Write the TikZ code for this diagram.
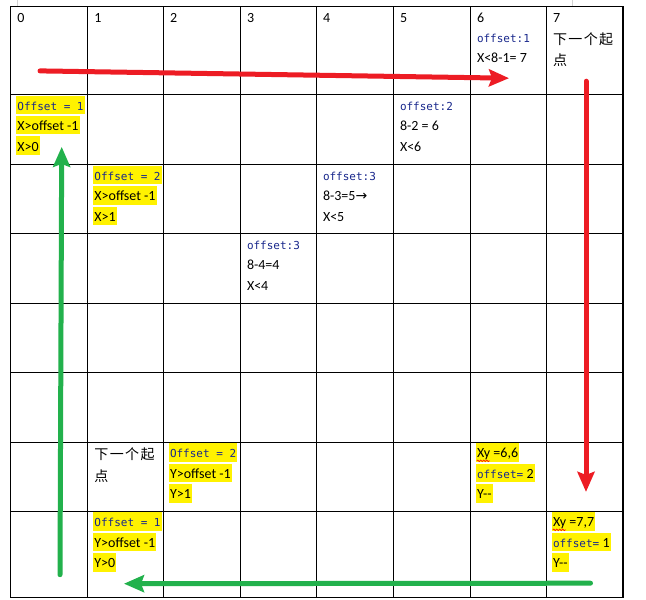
\documentclass[tikz,border=0pt]{standalone}
\usepackage{fontspec}
\usepackage{tikz}
\usetikzlibrary{arrows.meta}
\usetikzlibrary{decorations.pathmorphing}
\setmainfont{Carlito}
\newfontfamily\codefont{DejaVu Sans Mono}
\newfontfamily\cjkfont[LetterSpace=10]{Noto Sans CJK SC}
\newfontfamily\dejafont{DejaVu Sans}
\definecolor{kwblue}{RGB}{25,40,140}
\definecolor{arrowred}{RGB}{237,28,36}
\definecolor{arrowgreen}{RGB}{34,177,76}
\newcommand\kwd[1]{{\codefont\fontsize{11}{13}\selectfont\color{kwblue}#1}}
\newcommand\zh[1]{{\cjkfont\fontsize{14}{16}\selectfont #1}}
\tikzset{cell/.style = {anchor = base west, inner sep = 0pt, font = \fontsize{14}{16}\selectfont},
         hilite/.style = {cell, fill = yellow, inner xsep = 1pt, text height = 14.5pt, text depth = 4pt},
         gridline/.style = {line width = 1.2pt, line cap = rect},
         redarrow/.style = {draw = arrowred, line width = 5pt, line cap = round,
                            -{Stealth[length = 20pt, width = 17pt, inset = 3pt]}},
         greenarrow/.style = {redarrow, draw = arrowgreen},
         squiggle/.style = {draw = red, line width = 0.6pt, decorate,
                            decoration = {snake, amplitude = 0.8pt, segment length = 3pt}}}

\begin{document}
\begin{tikzpicture}[x = 1pt, y = -1pt]
      \fill [white] (0, 0) rectangle (646, 599);
      \draw [gray!35] (17.3, 0) -- (17.3, 5.5);
      \draw [gray!35] (571.7, 0) -- (571.7, 5.5);
      \foreach \x in {10.7, 87.7, 163.3, 240.3, 316.3, 393.3, 470.3, 546.3, 623}
        \draw [gridline] (\x, 6.3) -- (\x, 597);
      \foreach \y in {6.3, 94.3, 164.3, 233.3, 303, 372.3, 442, 511, 597}
        \draw [gridline] (10.7, \y) -- (623, \y);
      \foreach \d/\x in {0/17.2, 1/94.2, 2/169.8, 3/246.8, 4/322.8, 5/399.8, 6/476.8, 7/552.8}
        \node [cell] (head\d) at (\x, 21.9) {\d};
      \node [cell] (offsetF) at (476.8, 42.3) {\kwd{offset:1}};
      \node [cell] (boundF) at (476.8, 62.8) {X<8-1= 7};
      \node [cell] (nextA) at (552.8, 44) {\zh{下一个起}};
      \node [cell] (nextB) at (552.8, 65) {\zh{点}};
      \node [hilite] (offsetA) at (16.2, 109.9) {\kwd{Offset = 1}};
      \node [hilite] (condA) at (16.2, 130.3) {X>offset -1};
      \node [hilite] (boundA) at (16.2, 150.8) {X>0};
      \node [cell] (offsetE) at (399.8, 109.9) {\kwd{offset:2}};
      \node [cell] (calcE) at (399.8, 130.3) {8-2 = 6};
      \node [cell] (boundE) at (399.8, 150.8) {X<6};
      \node [hilite] (offsetB) at (93.2, 179.9) {\kwd{Offset = 2}};
      \node [hilite] (condB) at (93.2, 200.3) {X>offset -1};
      \node [hilite] (boundB) at (93.2, 220.8) {X>1};
      \node [cell] (offsetD) at (322.8, 179.9) {\kwd{offset:3}};
      \node [cell] (calcD) at (322.8, 200.3) {8-3=5{\dejafont →}};
      \node [cell] (boundD) at (322.8, 220.8) {X<5};
      \node [cell] (offsetC) at (246.8, 248.9) {\kwd{offset:3}};
      \node [cell] (calcC) at (246.8, 269.3) {8-4=4};
      \node [cell] (boundC) at (246.8, 289.8) {X<4};
      \node [cell] (nextC) at (94.2, 459) {\zh{下一个起}};
      \node [cell] (nextD) at (94.2, 481) {\zh{点}};
      \node [hilite] (offsetY) at (168.8, 457.6) {\kwd{Offset = 2}};
      \node [hilite] (condY) at (168.8, 478) {Y>offset -1};
      \node [hilite] (boundY) at (168.8, 498.5) {Y>1};
      \node [hilite] (xyA) at (475.8, 457.6) {Xy =6,6};
      \node [hilite] (offsetX) at (475.8, 478) {\kwd{offset=} 2};
      \node [hilite] (stepX) at (475.8, 498.5) {Y-{}-};
      \node [hilite] (offsetZ) at (93.2, 526.6) {\kwd{Offset = 1}};
      \node [hilite] (condZ) at (93.2, 547) {Y>offset -1};
      \node [hilite] (boundZ) at (93.2, 567.5) {Y>0};
      \node [hilite] (xyB) at (551.8, 526.6) {Xy =7,7};
      \node [hilite] (offsetW) at (551.8, 547) {\kwd{offset=} 1};
      \node [hilite] (stepW) at (551.8, 567.5) {Y-{}-};
      \draw [squiggle] ([shift = {(1pt, -3pt)}]xyA.base west) -- ++(13, 0);
      \draw [squiggle] ([shift = {(1pt, -3pt)}]xyB.base west) -- ++(13, 0);
      \coordinate (redA) at (40, 70.7);
      \coordinate (redB) at (509, 78);
      \coordinate (redC) at (586, 81);
      \coordinate (redD) at (586, 491.7);
      \coordinate (greenA) at (590.5, 583);
      \coordinate (greenB) at (124, 583.5);
      \coordinate (greenC) at (60, 574.5);
      \coordinate (greenD) at (61.7, 146.7);
      \draw [redarrow] (redA) -- (redB);
      \draw [redarrow] (redC) -- (redD);
      \draw [greenarrow] (greenA) -- (greenB);
      \draw [greenarrow] (greenC) -- (greenD);
    \end{tikzpicture}
\end{document}
